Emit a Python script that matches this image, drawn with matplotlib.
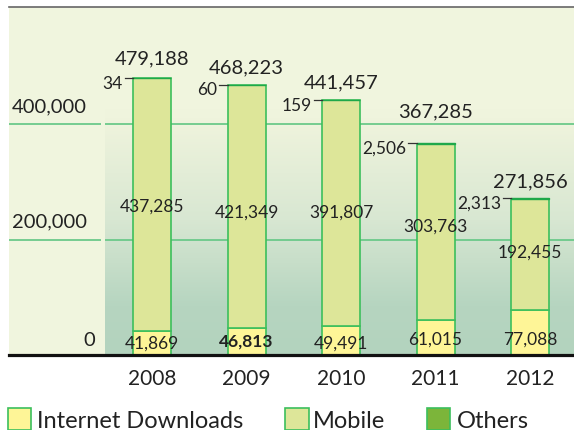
import numpy as np
import matplotlib
matplotlib.use("Agg")
import matplotlib.pyplot as plt
from matplotlib.colors import LinearSegmentedColormap
from matplotlib.patches import Rectangle

# ---------------- data ----------------
years = ["2008", "2009", "2010", "2011", "2012"]
internet = [41869, 46813, 49491, 61015, 77088]
mobile = [437285, 421349, 391807, 303763, 192455]
others = [34, 60, 159, 2506, 2313]
totals = [479188, 468223, 441457, 367285, 271856]
yticks = [0, 200000, 400000]
ytick_labels = ["0", "200,000", "400,000"]
legend_labels = ["Internet Downloads", "Mobile", "Others"]

# ---------------- styles ----------------
FONT = ["Lato", "DejaVu Sans"]
plt.rcParams["font.family"] = FONT
BG = "#f0f5de"
C_INT = "#fef597"
C_MOB = "#dde699"
C_OTH = "#7cb53a"
C_OTH_EDGE = "#1fa84a"
EDGE = "#3cbf5c"
GRID = "#6cc98a"
TXT = "#222222"

W, H = 574, 430
fig = plt.figure(figsize=(W / 100, H / 100), dpi=100, facecolor="white")

# pixel geometry of the plotting frame
ax_left_px, ax_right_px, ax_top_px, ax_bot_px = 9, 574, 7, 355
ax = fig.add_axes([ax_left_px / W, 1 - ax_bot_px / H,
                   (ax_right_px - ax_left_px) / W, (ax_bot_px - ax_top_px) / H])
ax.set_facecolor(BG)

per_px = 200000 / 115.5          # data units per pixel (vertical)
x0_px, dx_px = 152, 94.5          # first bar center, bar spacing (pixels)

def xpx(p):
    return (p - x0_px) / dx_px

def ypx(p):
    return (ax_bot_px - p) * per_px

# gradient panel behind bars
grad_cmap = LinearSegmentedColormap.from_list(
    "g", [(0.0, "#b3d3be"), (0.2, "#b6d5c0"), (0.55, "#d8e7d2"), (0.93, "#eef3dc"), (1.0, BG)])
grad = np.linspace(0, 1, 256).reshape(-1, 1)
ax.imshow(grad, cmap=grad_cmap, origin="lower", aspect="auto",
          extent=[xpx(105), xpx(ax_right_px), 0, 425000], zorder=0)
ax.set_xlim(xpx(ax_left_px), xpx(ax_right_px))
ax.set_ylim(0, ypx(ax_top_px))

# gridlines (split: label panel + plot panel)
for v in yticks[1:]:
    ax.hlines(v, xpx(ax_left_px), xpx(101), color=GRID, lw=1.3, zorder=1)
    ax.hlines(v, xpx(105), xpx(ax_right_px), color=GRID, lw=1.3, zorder=1)

# y labels
for v, lab in zip(yticks, ytick_labels):
    if v == 0:
        ax.annotate(lab, (xpx(95), v), xytext=(0, 15 * 0.72), textcoords="offset points",
                    ha="right", va="center", fontsize=14.5, color=TXT)
    else:
        ax.annotate(lab, (xpx(12), v), xytext=(0, 17.5 * 0.72), textcoords="offset points",
                    ha="left", va="center", fontsize=14.5, color=TXT)

# bars
x = np.arange(len(years))
bw = 38 / dx_px
internet_a = np.array(internet)
mobile_a = np.array(mobile)
others_a = np.array(others)
ax.bar(x, internet_a, bw, color=C_INT, edgecolor=EDGE, lw=1.2, zorder=3)
ax.bar(x, mobile_a, bw, bottom=internet_a, color=C_MOB, edgecolor=EDGE, lw=1.2, zorder=3)
ax.bar(x, others_a, bw, bottom=internet_a + mobile_a, color=C_OTH, edgecolor=C_OTH_EDGE, lw=1.0, zorder=4)

# label placement (pixel offsets)
total_off_px = [19.6, 16.6, 17.0, 30.6, 15.7]
mobile_lab_px = [206.7, 213.0, 213.0, 226.7, 253.0]
internet_lab_px = [343.3, 341.7, 343.3, 339.3, 339.3]
bold_internet = [False, True, False, False, False]

for i in range(len(years)):
    top = internet[i] + mobile[i] + others[i]
    ax.annotate(f"{totals[i]:,}", (x[i], top), xytext=(0, total_off_px[i] * 0.72),
                textcoords="offset points", ha="center", va="center", fontsize=14.5, color=TXT, zorder=6)
    ax.text(x[i], ypx(mobile_lab_px[i]), f"{mobile[i]:,}", ha="center", va="center",
            fontsize=12.5, color=TXT, zorder=6)
    ax.text(x[i], ypx(internet_lab_px[i]), f"{internet[i]:,}", ha="center", va="center",
            fontsize=12.5, color=TXT, zorder=6,
            fontweight="bold" if bold_internet[i] else "normal")
    # others label with leader
    left = x[i] - bw / 2
    ax.plot([left - 8.5 / dx_px, left], [top, top], color="#333333", lw=0.9, zorder=5)
    ax.annotate(f"{others[i]:,}", (left - 10 / dx_px, top), xytext=(0, -5.5 * 0.72),
                textcoords="offset points", ha="right", va="center", fontsize=12.5, color=TXT, zorder=6)

# year labels
for i, yr in enumerate(years):
    ax.annotate(yr, (x[i], 0), xytext=(0, -24 * 0.72), textcoords="offset points",
                ha="center", va="center", fontsize=15, color=TXT, annotation_clip=False)

# spines
for s in ["left", "right"]:
    ax.spines[s].set_visible(False)
ax.spines["bottom"].set_color("#111111")
ax.spines["bottom"].set_linewidth(2.3)
ax.spines["bottom"].set_zorder(7)
ax.spines["top"].set_color("#666666")
ax.spines["top"].set_linewidth(1.2)
ax.set_xticks([])
ax.set_yticks([])

# legend (manual)
leg_items = [(8, 37, C_INT), (285, 313, C_MOB), (427, 457, C_OTH)]
for (px, tx, fc), lab in zip(leg_items, legend_labels):
    fig.patches.append(Rectangle((px / W, 0), 23.5 / W, 22.3 / H, transform=fig.transFigure,
                                 facecolor=fc, edgecolor=EDGE, lw=1.2))
    fig.text(tx / W, 1 - 421 / H, lab, ha="left", va="center", fontsize=17, color=TXT)

fig.savefig("out.png", dpi=100, facecolor="white")
